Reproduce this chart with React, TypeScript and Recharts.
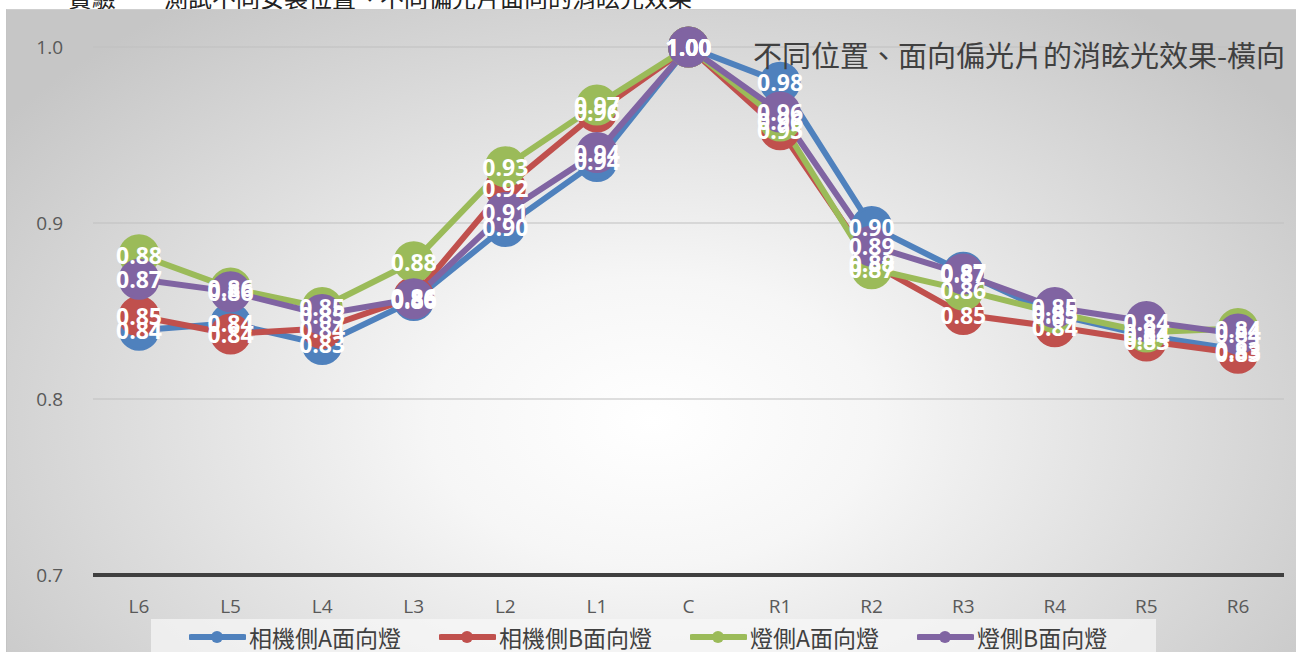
import React from 'react';
import {
  LineChart,
  Line,
  XAxis,
  YAxis,
  CartesianGrid,
  Legend,
  LabelList,
} from 'recharts';

// positions along the horizontal, left to right
const categories = ['L6', 'L5', 'L4', 'L3', 'L2', 'L1', 'C', 'R1', 'R2', 'R3', 'R4', 'R5', 'R6'];

const camA = [0.839, 0.843, 0.831, 0.856, 0.898, 0.935, 1.0, 0.98, 0.898, 0.872, 0.848, 0.836, 0.828];
const camB = [0.847, 0.837, 0.84, 0.858, 0.92, 0.963, 1.0, 0.953, 0.877, 0.848, 0.841, 0.833, 0.826];
const lampA = [0.882, 0.863, 0.852, 0.878, 0.932, 0.967, 1.0, 0.958, 0.874, 0.862, 0.849, 0.838, 0.84];
const lampB = [0.868, 0.861, 0.848, 0.857, 0.906, 0.94, 1.0, 0.963, 0.887, 0.871, 0.852, 0.844, 0.837];

const yTicks = [0.7, 0.8, 0.9, 1.0];

const series = [
  { key: 'camA', name: '相機側A面向燈', color: '#4f81bd', values: camA },
  { key: 'camB', name: '相機側B面向燈', color: '#c0504d', values: camB },
  { key: 'lampA', name: '燈側A面向燈', color: '#9bbb59', values: lampA },
  { key: 'lampB', name: '燈側B面向燈', color: '#8064a2', values: lampB },
];

const data = categories.map((cat, i) => {
  const row: Record<string, string | number> = { cat };
  series.forEach((s) => {
    row[s.key] = s.values[i];
  });
  return row;
});

const FONT = '"Open Sans", "Noto Sans CJK TC", sans-serif';
const CJK = '"Noto Sans CJK TC", "Noto Sans", sans-serif';

const renderValue = (props: any) => {
  const { x, y, value } = props;
  return (
    <text
      x={x}
      y={y}
      fill="#fff"
      textAnchor="middle"
      dominantBaseline="central"
      fontFamily={FONT}
      fontSize={23}
      fontWeight={700}
    >
      {Number(value).toFixed(2)}
    </text>
  );
};

const renderLegend = () => (
  <div
    style={{
      display: 'flex',
      alignItems: 'center',
      height: 36,
      paddingLeft: 38,
      fontFamily: CJK,
      fontSize: 23,
      lineHeight: '30px',
      color: '#404040',
    }}
  >
    {series.map((s) => (
      <div key={s.key} style={{ display: 'flex', alignItems: 'center', marginRight: 38 }}>
        <svg width={57} height={14} style={{ marginRight: 3 }}>
          <line x1={2} y1={7} x2={55} y2={7} stroke={s.color} strokeWidth={6} strokeLinecap="round" />
          <circle cx={28} cy={7} r={6} fill={s.color} />
        </svg>
        <span>{s.name}</span>
      </div>
    ))}
  </div>
);

export default function App() {
  return (
    <div
      style={{
        position: 'absolute',
        left: 0,
        top: 0,
        width: 1296,
        height: 652,
        overflow: 'hidden',
        background: '#fff',
      }}
    >
      {/* caption of the page, cut off at the top */}
      <div
        style={{
          position: 'absolute',
          left: 68,
          top: -21,
          fontFamily: CJK,
          fontSize: 24,
          color: '#222',
          whiteSpace: 'nowrap',
        }}
      >
        實驗一　測試不同安裝位置、不同偏光片面向的消眩光效果
      </div>

      <div
        style={{
          position: 'absolute',
          left: 6,
          top: 9,
          width: 1290,
          height: 643,
          borderLeft: '1px solid #c4c4c4',
          borderTop: '1px solid #cfcfcf',
          background:
            'radial-gradient(ellipse 62% 80% at 50% 64%, #ffffff 0%, #f6f6f6 28%, #c6c6c6 100%)',
        }}
      >
        <div
          style={{
            position: 'absolute',
            right: 12,
            top: 23,
            fontFamily: CJK,
            fontSize: 29,
            color: '#404040',
            whiteSpace: 'nowrap',
            zIndex: 2,
          }}
        >
          不同位置、面向偏光片的消眩光效果-橫向
        </div>

        <LineChart
          width={1290}
          height={643}
          data={data}
          margin={{ top: 37, right: 13, left: 0, bottom: 38 }}
        >
          <CartesianGrid vertical={false} stroke="#bfbfbf" strokeWidth={1.2} />
          <XAxis
            dataKey="cat"
            padding={{ left: 46, right: 46 }}
            height={40}
            tickLine={false}
            tickSize={0}
            tickMargin={25}
            axisLine={{ stroke: '#404040', strokeWidth: 4 }}
            tick={{ fill: '#595959', fontSize: 19, fontFamily: FONT }}
          />
          <YAxis
            width={86}
            domain={[0.7, 1.0]}
            ticks={yTicks}
            tickFormatter={(v: number) => v.toFixed(1)}
            axisLine={false}
            tickLine={false}
            tickSize={0}
            tickMargin={30}
            tick={{ fill: '#595959', fontSize: 19, fontFamily: FONT }}
          />
          {series.map((s) => (
            <Line
              key={s.key}
              dataKey={s.key}
              name={s.name}
              stroke={s.color}
              strokeWidth={6}
              dot={{ r: 19, fill: s.color, stroke: s.color, strokeWidth: 3 }}
              activeDot={false}
              isAnimationActive={false}
            />
          ))}
          {/* labels on top of every marker */}
          {series.map((s) => (
            <Line
              key={`${s.key}-label`}
              dataKey={s.key}
              stroke="none"
              dot={false}
              activeDot={false}
              legendType="none"
              isAnimationActive={false}
            >
              <LabelList dataKey={s.key} content={renderValue} />
            </Line>
          ))}
          <Legend
            layout="horizontal"
            verticalAlign="middle"
            align="center"
            content={renderLegend}
            wrapperStyle={{
              top: 609,
              left: 144,
              width: 1005,
              height: 34,
              background: 'rgba(248,248,248,0.7)',
            }}
          />
        </LineChart>
      </div>
    </div>
  );
}
